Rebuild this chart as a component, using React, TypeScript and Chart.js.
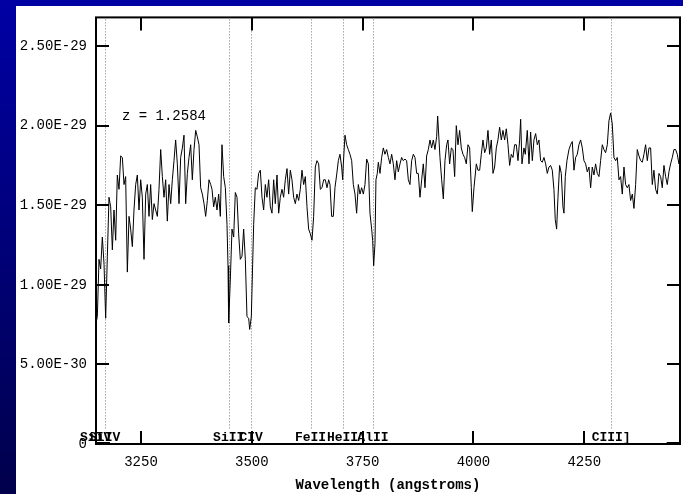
import React, { useEffect, useRef } from 'react';
import { Chart, registerables } from 'chart.js';

Chart.register(...registerables);

// Observed wavelength (angstroms)
const wavelengths = [
  3148.5, 3151.5, 3155.3, 3159.0, 3162.8, 3166.6, 3170.3, 3174.1, 3177.8, 3181.6,
  3185.4, 3189.1, 3192.9, 3196.6, 3200.4, 3204.2, 3207.9, 3211.7, 3215.4, 3219.2,
  3223.0, 3226.7, 3230.5, 3234.2, 3238.0, 3241.8, 3245.5, 3249.3, 3253.0, 3256.8,
  3260.6, 3264.3, 3268.1, 3271.8, 3275.6, 3279.4, 3283.1, 3286.9, 3290.6, 3294.4,
  3298.2, 3301.9, 3305.7, 3309.4, 3313.2, 3317.0, 3320.7, 3324.5, 3328.2, 3332.0,
  3335.8, 3339.5, 3343.3, 3347.0, 3350.8, 3354.6, 3358.3, 3362.1, 3365.8, 3369.6,
  3373.4, 3377.1, 3380.9, 3384.6, 3388.4, 3392.2, 3395.9, 3399.7, 3403.4, 3407.2,
  3410.2, 3414.0, 3417.7, 3421.5, 3425.2, 3429.0, 3432.7, 3436.5, 3440.3, 3444.0,
  3446.3, 3447.8, 3451.5, 3455.3, 3459.1, 3462.8, 3466.6, 3470.3, 3474.1, 3477.9,
  3481.6, 3485.4, 3489.1, 3492.9, 3495.2, 3498.9, 3501.9, 3504.2, 3507.9, 3511.7,
  3515.4, 3519.2, 3523.0, 3526.7, 3530.5, 3534.2, 3538.0, 3541.8, 3545.5, 3549.3,
  3553.0, 3556.8, 3560.6, 3564.3, 3568.1, 3571.8, 3575.6, 3579.4, 3583.1, 3586.9,
  3590.6, 3594.4, 3598.2, 3601.9, 3605.7, 3609.4, 3613.2, 3617.0, 3620.7, 3624.5,
  3628.2, 3632.0, 3635.8, 3639.5, 3643.3, 3647.0, 3650.8, 3654.6, 3658.3, 3662.1,
  3665.8, 3669.6, 3673.4,
  3676.4, 3680.1, 3683.9, 3687.6, 3691.4, 3695.2, 3698.9, 3702.7, 3705.0, 3706.5,
  3710.2, 3714.0, 3717.7, 3721.5, 3725.3, 3729.0, 3732.8, 3736.5, 3740.3, 3744.1,
  3747.8, 3751.6, 3755.3, 3759.1, 3762.9, 3766.6, 3770.4, 3772.6, 3774.9, 3777.9,
  3780.1, 3783.1, 3785.4, 3789.2, 3792.9, 3796.7, 3800.4, 3804.2, 3808.0, 3811.7,
  3815.5, 3819.2, 3823.0, 3826.8, 3830.5, 3834.3, 3838.0, 3841.8, 3845.6, 3849.3,
  3853.1, 3856.8, 3860.6, 3864.4, 3868.1, 3871.9, 3875.6, 3879.4, 3883.2, 3886.9,
  3890.7, 3894.4, 3898.2, 3902.0, 3905.7, 3909.5, 3913.2, 3917.0, 3919.3, 3922.3,
  3924.5, 3928.3, 3932.1, 3935.8, 3939.6,
  3942.5, 3946.3, 3950.1, 3953.8, 3957.6, 3961.3, 3965.1, 3968.9, 3972.6, 3976.4,
  3980.1, 3983.9, 3987.7, 3991.4, 3995.2, 3997.4, 4001.2, 4006.5, 4010.2, 4014.0,
  4017.7, 4021.5, 4025.3, 4029.0, 4032.8, 4036.5, 4040.3, 4044.1, 4047.8, 4051.6,
  4055.3, 4059.1, 4062.9, 4066.6, 4070.4, 4074.1, 4077.9, 4081.7, 4085.4, 4089.2,
  4092.9, 4096.7, 4100.5, 4104.2, 4106.5, 4109.5, 4114.0, 4117.0, 4121.5, 4125.3,
  4129.0, 4132.8, 4136.5, 4140.3, 4144.1, 4147.8, 4151.6, 4155.3, 4159.1, 4162.9,
  4166.6, 4170.4, 4174.1, 4177.9, 4181.6, 4184.6, 4187.7, 4190.7, 4194.4, 4198.2,
  4201.9, 4204.2, 4207.2, 4211.0,
  4215.5, 4219.2, 4223.0, 4226.8, 4230.5, 4234.3, 4238.0, 4241.8, 4245.6, 4249.3,
  4253.1, 4256.8, 4260.6, 4264.4, 4268.1, 4271.9, 4275.6, 4279.4, 4283.2, 4286.9,
  4290.7, 4294.4, 4298.2, 4302.0, 4305.7, 4309.5, 4313.2, 4317.0, 4320.8, 4324.5,
  4328.3, 4332.0, 4335.8, 4339.6, 4343.3, 4347.1, 4350.8, 4354.6, 4358.4, 4362.1,
  4365.9, 4369.6, 4373.4, 4377.2, 4380.9, 4384.7, 4388.4, 4392.2, 4396.0, 4399.7,
  4403.5, 4407.2, 4411.0, 4414.8, 4418.5, 4422.3, 4426.0, 4429.8, 4433.6, 4437.3,
  4441.1, 4444.8, 4448.6, 4452.4, 4456.1, 4459.9, 4463.6, 4465.9,
];

// Flux in units of 1E-29
const fluxValues = [
  0.76, 0.80, 1.16, 1.10, 1.30, 1.13, 0.79, 1.18, 1.55, 1.49,
  1.22, 1.47, 1.28, 1.69, 1.60, 1.81, 1.80, 1.63, 1.68, 1.08,
  1.43, 1.35, 1.24, 1.47, 1.63, 1.69, 1.47, 1.66, 1.55, 1.16,
  1.57, 1.63, 1.43, 1.63, 1.41, 1.51, 1.47, 1.43, 1.60, 1.85,
  1.68, 1.55, 1.66, 1.40, 1.63, 1.51, 1.66, 1.78, 1.91, 1.76,
  1.51, 1.80, 1.86, 1.94, 1.51, 1.70, 1.80, 1.88, 1.66, 1.85,
  1.97, 1.93, 1.88, 1.61, 1.57, 1.51, 1.43, 1.53, 1.66, 1.63,
  1.60, 1.49, 1.55, 1.47, 1.57, 1.43, 1.88, 1.68, 1.61, 1.38,
  1.12, 0.76, 1.03, 1.35, 1.30, 1.58, 1.55, 1.32, 1.16, 1.18,
  1.35, 1.16, 0.80, 0.79, 0.72, 0.80, 1.13, 1.38, 1.61, 1.60,
  1.70, 1.72, 1.55, 1.47, 1.63, 1.55, 1.66, 1.49, 1.45, 1.66,
  1.51, 1.69, 1.45, 1.55, 1.60, 1.55, 1.66, 1.73, 1.57, 1.72,
  1.66, 1.55, 1.51, 1.57, 1.53, 1.60, 1.72, 1.63, 1.68, 1.49,
  1.35, 1.32, 1.28, 1.43, 1.74, 1.78, 1.76, 1.60, 1.61, 1.66,
  1.66, 1.61, 1.66,
  1.63, 1.43, 1.43, 1.61, 1.69, 1.78, 1.82, 1.74, 1.66, 1.76,
  1.94, 1.88, 1.85, 1.82, 1.78, 1.63, 1.57, 1.45, 1.63, 1.57,
  1.61, 1.57, 1.63, 1.79, 1.76, 1.45, 1.35, 1.28, 1.12, 1.26,
  1.66, 1.70, 1.77, 1.70, 1.80, 1.86, 1.82, 1.85, 1.80, 1.76,
  1.82, 1.76, 1.66, 1.78, 1.71, 1.76, 1.80, 1.78, 1.79, 1.78,
  1.66, 1.63, 1.78, 1.82, 1.80, 1.70, 1.70, 1.55, 1.66, 1.76,
  1.61, 1.81, 1.85, 1.91, 1.86, 1.91, 1.85, 1.93, 2.06, 1.91,
  1.80, 1.66, 1.54, 1.78, 1.88,
  1.91, 1.76, 1.86, 1.85, 1.68, 2.00, 1.88, 1.97, 1.86, 1.82,
  1.80, 1.76, 1.88, 1.86, 1.61, 1.46, 1.61, 1.76, 1.72, 1.72,
  1.82, 1.91, 1.83, 1.86, 1.97, 1.82, 1.91, 1.70, 1.74, 1.86,
  1.91, 1.99, 1.91, 1.97, 1.91, 1.98, 1.88, 1.75, 1.82, 1.80,
  1.88, 1.88, 1.78, 1.91, 2.04, 1.76, 1.86, 1.82, 1.97, 1.76,
  1.96, 1.78, 1.91, 1.95, 1.88, 1.91, 1.78, 1.77, 1.80, 1.76,
  1.70, 1.74, 1.75, 1.72, 1.60, 1.41, 1.35, 1.55, 1.75, 1.70,
  1.49, 1.45, 1.68, 1.78,
  1.85, 1.88, 1.90, 1.72, 1.80, 1.82, 1.88, 1.91, 1.86, 1.78,
  1.76, 1.71, 1.74, 1.61, 1.74, 1.69, 1.76, 1.70, 1.68, 1.78,
  1.88, 1.85, 1.83, 1.88, 2.03, 2.08, 2.01, 1.80, 1.78, 1.80,
  1.66, 1.68, 1.57, 1.74, 1.63, 1.61, 1.63, 1.53, 1.57, 1.48,
  1.63, 1.85, 1.81, 1.78, 1.77, 1.82, 1.88, 1.78, 1.86, 1.86,
  1.63, 1.72, 1.60, 1.57, 1.70, 1.68, 1.61, 1.75, 1.68, 1.63,
  1.71, 1.76, 1.80, 1.85, 1.85, 1.82, 1.76, 1.78,
];

// Masked (zero) regions at the spectrum ends
const maskLeftWaves = [3148.5, 3180];
const maskRightWaves = [4436, 4466];
const maskFlux = [0, 0];

// Line identifications (observed wavelength at z = 1.2584)
const lineNames = ['SiIV', 'SiIV', 'SiII', 'CIV', 'FeII', 'HeII', 'AlII', 'CIII]'];
const lineWaves = [3147.7, 3168.0, 3447.9, 3498.4, 3632.5, 3704.7, 3773.3, 4310.7];

const xTickValues = [3250, 3500, 3750, 4000, 4250];
const yTickValues = [0, 0.5, 1, 1.5, 2, 2.5];
const xRange = [3148.5, 4466];
const yRange = [0, 2.68];

const redshiftText = 'z = 1.2584';
const redshiftPos = [3207, 2.06];
const xTitle = 'Wavelength (angstroms)';

const MONO = '"Liberation Mono", "DejaVu Sans Mono", monospace';

function fmtY(v: number): string {
  if (v === 0) return '0';
  return (v * 1e-29).toExponential(2).toUpperCase();
}

const decorPlugin = {
  id: 'decor',
  beforeDraw(chart: any) {
    const { ctx, width, height } = chart;
    ctx.save();
    const g = ctx.createLinearGradient(0, 0, 0, height);
    g.addColorStop(0, '#0000a4');
    g.addColorStop(1, '#00004c');
    ctx.fillStyle = g;
    ctx.fillRect(0, 0, width, height);
    ctx.fillStyle = '#ffffff';
    ctx.fillRect(16, 6, width - 16, height - 6);
    ctx.restore();
  },
  beforeDatasetsDraw(chart: any) {
    const { ctx, chartArea } = chart;
    const xs = chart.scales.x;
    ctx.save();
    ctx.strokeStyle = '#777';
    ctx.lineWidth = 1;
    ctx.setLineDash([1, 2]);
    lineWaves.forEach((w) => {
      if (w < xRange[0] || w > xRange[1]) return;
      const px = Math.round(xs.getPixelForValue(w)) + 0.5;
      ctx.beginPath();
      ctx.moveTo(px, chartArea.top + 2);
      ctx.lineTo(px, chartArea.bottom - 14);
      ctx.stroke();
    });
    ctx.restore();
  },
  afterDatasetsDraw(chart: any) {
    const { ctx, chartArea } = chart;
    const xs = chart.scales.x;
    const ys = chart.scales.y;
    const { left, right, top, bottom } = chartArea;
    ctx.save();
    // frame
    ctx.strokeStyle = '#000';
    ctx.lineWidth = 2;
    ctx.strokeRect(left, top, right - left, bottom - top);
    // inward ticks
    const tl = 13;
    ctx.beginPath();
    xTickValues.forEach((v) => {
      const px = Math.round(xs.getPixelForValue(v));
      ctx.moveTo(px, bottom);
      ctx.lineTo(px, bottom - tl);
      ctx.moveTo(px, top);
      ctx.lineTo(px, top + tl);
    });
    yTickValues.forEach((v) => {
      if (v === 0) return;
      const py = Math.round(ys.getPixelForValue(v));
      ctx.moveTo(left, py);
      ctx.lineTo(left + tl, py);
      ctx.moveTo(right, py);
      ctx.lineTo(right - tl, py);
    });
    ctx.stroke();
    // line labels
    ctx.fillStyle = '#000';
    ctx.font = 'bold 13px ' + MONO;
    ctx.textAlign = 'center';
    ctx.textBaseline = 'alphabetic';
    lineNames.forEach((n, i) => {
      const px = xs.getPixelForValue(lineWaves[i]);
      ctx.fillText(n, px, bottom - 3);
    });
    // redshift text
    ctx.font = '14px ' + MONO;
    ctx.textAlign = 'left';
    ctx.textBaseline = 'middle';
    ctx.fillText(redshiftText, xs.getPixelForValue(redshiftPos[0]), ys.getPixelForValue(redshiftPos[1]));
    // x title
    ctx.font = 'bold 14px ' + MONO;
    ctx.textAlign = 'center';
    ctx.textBaseline = 'middle';
    ctx.fillText(xTitle, (left + right) / 2, bottom + 41);
    ctx.restore();
  },
};

export default function App() {
  const ref = useRef<HTMLCanvasElement | null>(null);

  useEffect(() => {
    if (!ref.current) return;
    const spectrum = wavelengths.map((w, i) => ({ x: w, y: fluxValues[i] }));
    const maskL = maskLeftWaves.map((w, i) => ({ x: w, y: maskFlux[i] }));
    const maskR = maskRightWaves.map((w, i) => ({ x: w, y: maskFlux[i] }));
    const chart = new Chart(ref.current, {
      type: 'line',
      data: {
        datasets: [
          { data: spectrum, borderColor: '#000', borderWidth: 1, pointRadius: 0, tension: 0, fill: false },
          { data: maskL, borderColor: '#000', borderWidth: 4, pointRadius: 0, fill: false },
          { data: maskR, borderColor: '#000', borderWidth: 4, pointRadius: 0, fill: false },
        ],
      },
      options: {
        animation: false,
        responsive: true,
        maintainAspectRatio: false,
        layout: { padding: { top: 14, right: 3, left: 0, bottom: 0 } },
        plugins: { legend: { display: false }, tooltip: { enabled: false }, title: { display: false } },
        scales: {
          x: {
            type: 'linear',
            min: xRange[0],
            max: xRange[1],
            grid: { display: false, drawTicks: false },
            border: { display: false },
            afterBuildTicks: (s: any) => {
              s.ticks = xTickValues.map((v) => ({ value: v }));
            },
            afterFit: (s: any) => {
              s.height = 50;
            },
            ticks: {
              padding: 10,
              color: '#000',
              font: { family: MONO, size: 14 },
              maxRotation: 0,
              callback: (v: any) => String(v),
            },
          },
          y: {
            type: 'linear',
            min: yRange[0],
            max: yRange[1],
            grid: { display: false, drawTicks: false },
            border: { display: false },
            afterBuildTicks: (s: any) => {
              s.ticks = yTickValues.map((v) => ({ value: v }));
            },
            afterFit: (s: any) => {
              s.width = 96;
            },
            ticks: {
              padding: 9,
              color: '#000',
              font: { family: MONO, size: 14 },
              callback: (v: any) => fmtY(Number(v)),
            },
          },
        },
      },
      plugins: [decorPlugin],
    });
    return () => chart.destroy();
  }, []);

  return (
    <div style={{ position: 'fixed', left: 0, top: 0, width: 683, height: 494 }}>
      <canvas ref={ref} />
    </div>
  );
}
